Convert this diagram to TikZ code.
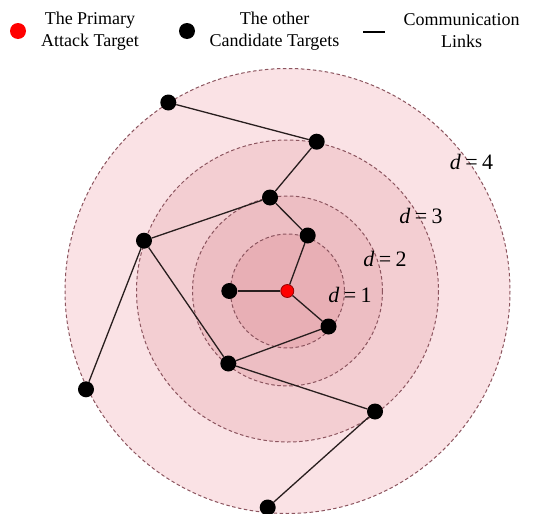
\documentclass[tikz,border=0pt]{standalone}
\usepackage{fontspec}
\setmainfont{Liberation Serif}
\begin{document}
\begin{tikzpicture}[x=1pt,y=-1pt,
  ring/.style={draw={rgb,255:red,140;green,85;blue,95}, dash pattern=on 3.5pt off 2.5pt, line width=1pt},
  dot/.style={circle, fill=black, inner sep=0pt, minimum size=16pt},
  reddot/.style={circle, fill=red, draw={rgb,255:red,150;green,0;blue,0}, line width=0.8pt, inner sep=0pt, minimum size=13pt},
  link/.style={draw={rgb,255:red,40;green,30;blue,30}, line width=1.3pt},
  dlab/.style={font=\fontsize{22}{24}\selectfont, inner sep=0pt},
  leg/.style={font=\fontsize{18}{22}\selectfont, align=center, inner sep=0pt}]
\useasboundingbox (0,0) rectangle (549,514);
\definecolor{cfour}{RGB}{250,226,229}
\definecolor{cthree}{RGB}{243,206,210}
\definecolor{ctwo}{RGB}{237,190,195}
\definecolor{cone}{RGB}{232,175,181}
\newcommand{\dl}[1]{\textit{d}\hspace{0.2em}=\hspace{0.2em}#1}
% rings
\coordinate (c) at (287.5,291);
\fill[cfour] (c) circle (222.5);
\draw[ring] (c) circle (222.5);
\fill[cthree] (c) circle (151);
\draw[ring] (c) circle (151);
\fill[ctwo] (c) circle (95);
\draw[ring] (c) circle (95);
\fill[cone] (c) circle (57);
\draw[ring] (c) circle (57);
% labels
\node[dlab] (l1) at (350,295) {\dl{1}};
\node[dlab] (l2) at (385,259) {\dl{2}};
\node[dlab] (l3) at (421,216) {\dl{3}};
\node[dlab] (l4) at (471.5,162) {\dl{4}};
% nodes
\node[reddot] (r) at (287.3,291) {};
\node[dot] (a1) at (229.3,291) {};
\node[dot] (a2) at (307.7,235.5) {};
\node[dot] (a3) at (328.5,326.5) {};
\node[dot] (b1) at (270,197.5) {};
\node[dot] (b2) at (228.3,363.5) {};
\node[dot] (c1) at (144,240.7) {};
\node[dot] (c2) at (316.7,141.7) {};
\node[dot] (c3) at (375,411.5) {};
\node[dot] (e1) at (168.3,102.5) {};
\node[dot] (e2) at (86,389.3) {};
\node[dot] (e3) at (267.7,507.5) {};
% links
\draw[link] (r) -- (a1);
\draw[link] (r) -- (a2);
\draw[link] (r) -- (a3);
\draw[link] (a2) -- (b1);
\draw[link] (b1) -- (c2);
\draw[link] (c2) -- (e1);
\draw[link] (b1) -- (c1);
\draw[link] (c1) -- (e2);
\draw[link] (c1) -- (b2);
\draw[link] (b2) -- (a3);
\draw[link] (b2) -- (c3);
\draw[link] (c3) -- (e3);
% legend
\node[circle, fill=red, inner sep=0pt, minimum size=16pt] (lr) at (18,31) {};
\node[leg] (lt1) at (90,31) {The Primary\\Attack Target};
\node[dot] (lb) at (187,31) {};
\node[leg] (lt2) at (274.5,31) {The other\\Candidate Targets};
\coordinate (ls) at (363,32);
\coordinate (le) at (385,32);
\draw[black, line width=1.5pt] (ls) -- (le);
\node[leg] (lt3) at (461.5,31) {Communication\\Links};
\end{tikzpicture}
\end{document}
